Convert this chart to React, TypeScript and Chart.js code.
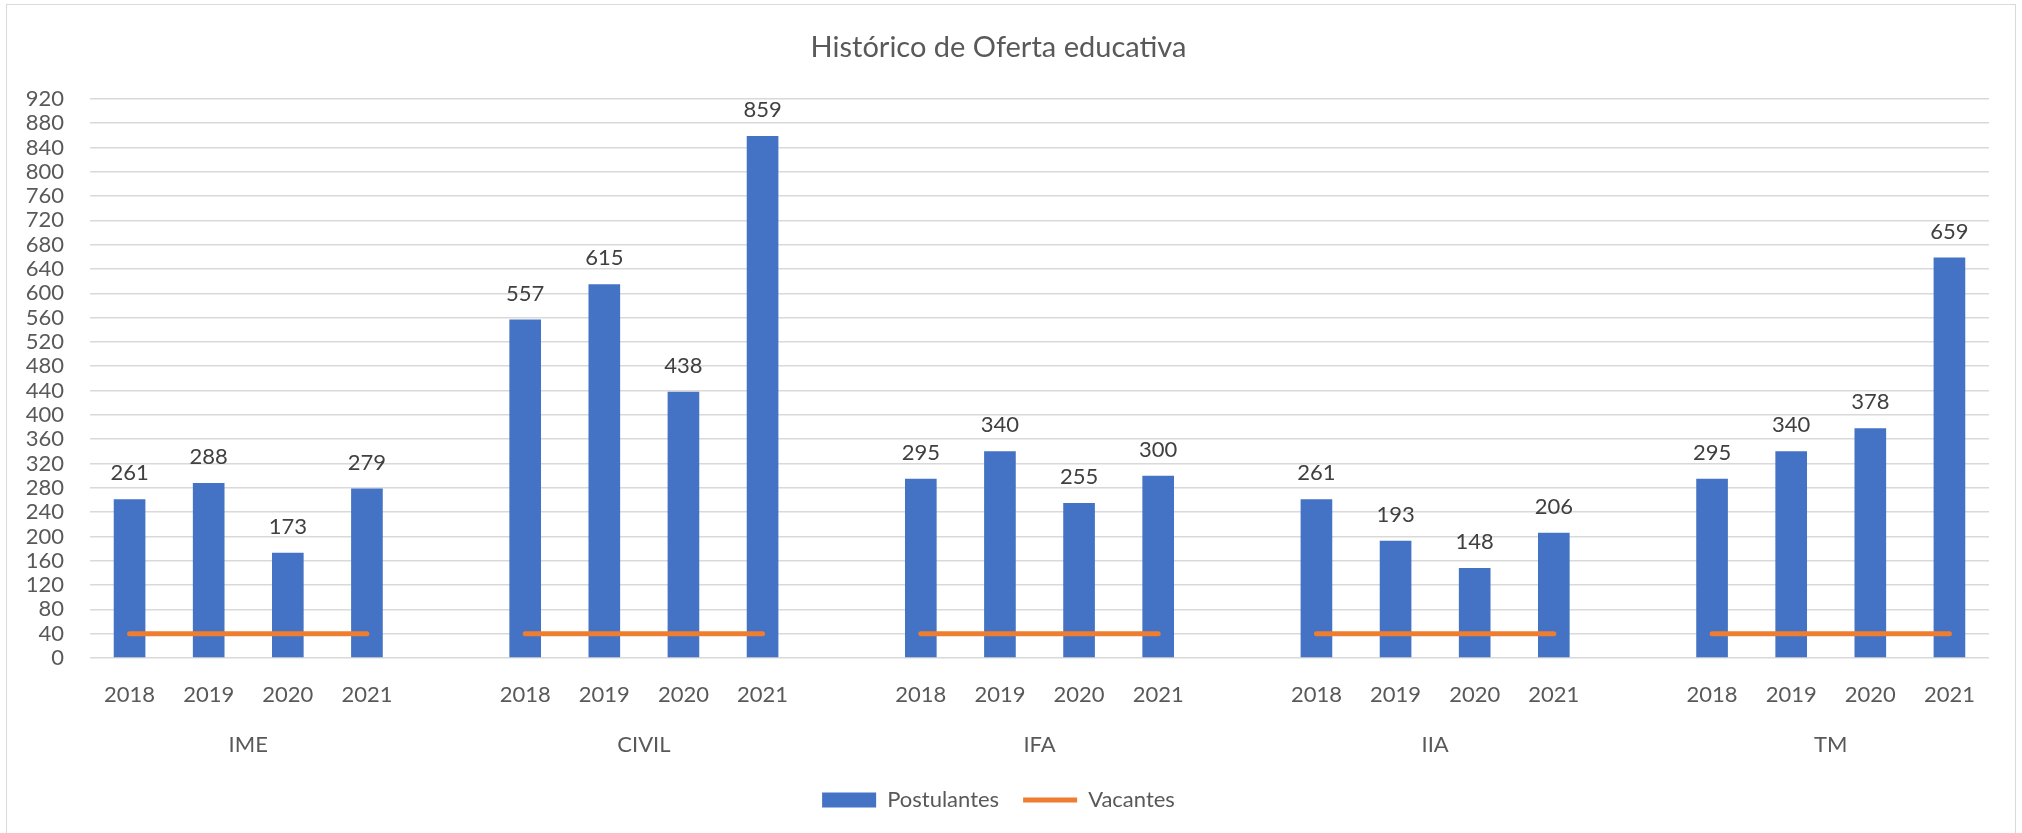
import React, { useEffect, useRef } from "react";
import { Chart, registerables } from "chart.js";

Chart.register(...registerables);

const groups = ["IME", "CIVIL", "IFA", "IIA", "TM"];
const years = ["2018", "2019", "2020", "2021"];
const postulantesIME = [261, 288, 173, 279];
const postulantesCIVIL = [557, 615, 438, 859];
const postulantesIFA = [295, 340, 255, 300];
const postulantesIIA = [261, 193, 148, 206];
const postulantesTM = [295, 340, 378, 659];
const vacantesPorGrupo = [40, 40, 40, 40, 40];
const yTicksMax = 920;
const yTickStep = 40;

const FONT = "Lato";
const BLUE = "#4472C4";
const ORANGE = "#ED7D31";

export default function App() {
  const ref = useRef<HTMLCanvasElement | null>(null);

  useEffect(() => {
    const perGroup = [postulantesIME, postulantesCIVIL, postulantesIFA, postulantesIIA, postulantesTM];
    const labels: string[] = [];
    const barData: (number | null)[] = [];
    const lineData: (number | null)[] = [];
    const groupCenters: number[] = [];
    perGroup.forEach((vals, g) => {
      if (g > 0) {
        labels.push("");
        barData.push(null);
        lineData.push(null);
      }
      const start = labels.length;
      years.forEach((y, i) => {
        labels.push(y);
        barData.push(vals[i]);
        lineData.push(vacantesPorGrupo[g]);
      });
      groupCenters.push(start + (years.length - 1) / 2);
    });

    const valueLabels = {
      id: "valueLabels",
      afterDatasetsDraw(chart: any) {
        const ctx = chart.ctx;
        const meta = chart.getDatasetMeta(0);
        ctx.save();
        ctx.font = `22px ${FONT}`;
        ctx.fillStyle = "#404040";
        ctx.textAlign = "center";
        ctx.textBaseline = "middle";
        meta.data.forEach((el: any, i: number) => {
          const v = barData[i];
          if (v == null) return;
          ctx.fillText(String(v), el.x, el.y - 26);
        });
        ctx.restore();
      },
    };

    const chart = new Chart(ref.current as HTMLCanvasElement, {
      type: "bar",
      data: {
        labels,
        datasets: [
          {
            type: "bar",
            label: "Postulantes",
            data: barData,
            backgroundColor: BLUE,
            borderWidth: 0,
            barPercentage: 0.4,
            categoryPercentage: 1,
            order: 2,
            pointStyle: "rect",
          } as any,
          {
            type: "line",
            label: "Vacantes",
            data: lineData,
            borderColor: ORANGE,
            backgroundColor: ORANGE,
            borderWidth: 5,
            borderCapStyle: "round",
            pointRadius: 0,
            pointHoverRadius: 0,
            spanGaps: false,
            tension: 0,
            order: 1,
            pointStyle: "line",
          } as any,
        ],
      },
      options: {
        responsive: false,
        animation: false,
        layout: { padding: { left: 8, right: 33, top: 0, bottom: 12 } },
        plugins: {
          title: {
            display: true,
            text: "Histórico de Oferta educativa",
            color: "#595959",
            font: { family: FONT, size: 29, weight: "normal" },
            padding: { top: 30, bottom: 34 },
          },
          legend: {
            display: true,
            position: "bottom",
            labels: {
              usePointStyle: true,
              pointStyleWidth: 54,
              boxHeight: 15,
              padding: 24,
              color: "#595959",
              font: { family: FONT, size: 22 },
              sort: (a: any, b: any) => a.datasetIndex - b.datasetIndex,
            },
          },
          tooltip: { enabled: false },
        },
        scales: {
          x: {
            type: "category",
            position: "bottom",
            grid: { display: false, drawTicks: false },
            border: { display: false },
            afterFit(scale: any) {
              scale.height = 55;
            },
            ticks: {
              color: "#595959",
              font: { family: FONT, size: 22 },
              padding: 24,
              maxRotation: 0,
              autoSkip: false,
            },
          },
          x2: {
            type: "linear",
            position: "bottom",
            offset: false,
            min: -0.5,
            max: labels.length - 0.5,
            grid: { display: false, drawTicks: false, offset: false },
            border: { display: false },
            afterBuildTicks(scale: any) {
              scale.ticks = groupCenters.map((v) => ({ value: v }));
            },
            afterFit(scale: any) {
              scale.height = 52;
            },
            ticks: {
              color: "#595959",
              font: { family: FONT, size: 22 },
              padding: 19,
              maxRotation: 0,
              autoSkip: false,
              callback: (value: any) => {
                const idx = groupCenters.indexOf(Number(value));
                return idx >= 0 ? groups[idx] : "";
              },
            },
          } as any,
          y: {
            min: 0,
            max: yTicksMax,
            grid: { color: "#d9d9d9", lineWidth: 1.5, drawTicks: false },
            border: { display: false },
            afterFit(scale: any) {
              scale.width = 82;
            },
            ticks: {
              stepSize: yTickStep,
              autoSkip: false,
              color: "#595959",
              font: { family: FONT, size: 22 },
              padding: 26,
            },
          },
        },
      },
      plugins: [valueLabels],
    });
    return () => chart.destroy();
  }, []);

  return (
    <div style={{ position: "absolute", left: 0, top: 0, width: 2022, height: 833, background: "#fff", overflow: "hidden" }}>
      <div
        style={{
          position: "absolute",
          left: 6,
          top: 4,
          width: 2010,
          height: 840,
          border: "1.5px solid #d9d9d9",
          boxSizing: "border-box",
        }}
      />
      <canvas ref={ref} width={2022} height={833} style={{ position: "absolute", left: 0, top: 0, width: 2022, height: 833 }} />
    </div>
  );
}
